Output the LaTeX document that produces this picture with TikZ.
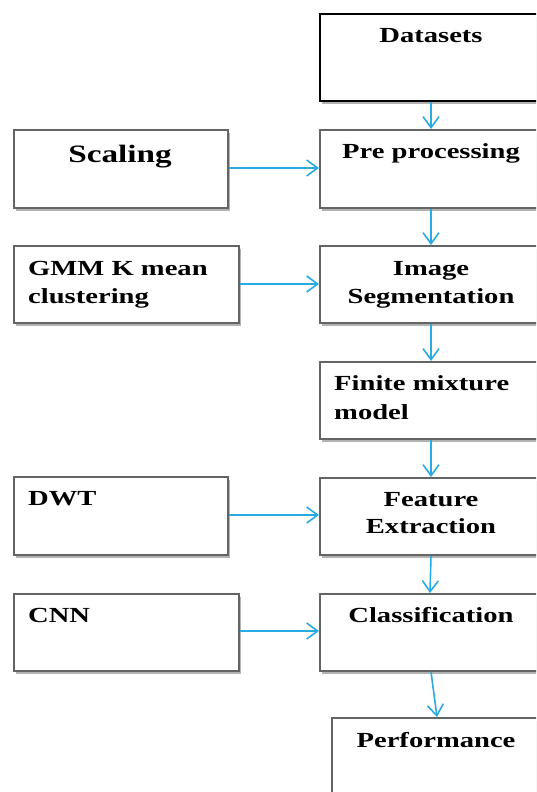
\documentclass[tikz,border=0pt]{standalone}
\usepackage{fontspec}
\setmainfont{Liberation Serif}[FakeStretch=1.33]
\usetikzlibrary{arrows.meta,shadows}
\definecolor{arrowblue}{RGB}{41,171,226}
\definecolor{boxgray}{RGB}{100,100,100}
\tikzset{
  boxst/.style={draw=boxgray, line width=1.8pt, fill=white, anchor=north west, inner sep=0pt,
    drop shadow={shadow xshift=2.4pt, shadow yshift=-2.8pt, fill=black!30, opacity=1}},
  darkbox/.style={boxst, draw=black},
  lbl/.style={font=\fontsize{21.5}{26}\selectfont\bfseries, inner sep=0pt, anchor=base},
  lbll/.style={lbl, anchor=base west},
  big/.style={lbl, font=\fontsize{25}{30}\selectfont\bfseries},
  flow/.style={draw=arrowblue, line width=1.6pt, -{Straight Barb[length=11pt,width=16pt,line width=1.6pt]}}
}
\begin{document}
\begin{tikzpicture}[x=1pt,y=-1pt]
\useasboundingbox (0,0) rectangle (536,792);
\clip (0,0) rectangle (536,792);
% right column
\node[darkbox, minimum width=225pt, minimum height=87pt] (ds) at (319,13) {};
\node[boxst, minimum width=225pt, minimum height=78pt] (pre) at (319,129) {};
\node[boxst, minimum width=225pt, minimum height=77pt] (seg) at (319,245) {};
\node[boxst, minimum width=225pt, minimum height=77pt] (fmm) at (319,361) {};
\node[boxst, minimum width=225pt, minimum height=77pt] (fe) at (319,477) {};
\node[boxst, minimum width=225pt, minimum height=77pt] (cls) at (319,593) {};
\node[boxst, minimum width=212pt, minimum height=90pt] (perf) at (331,717) {};
% left column
\node[boxst, minimum width=214pt, minimum height=78pt] (sc) at (13,129) {};
\node[boxst, minimum width=225pt, minimum height=77pt] (gmm) at (13,245) {};
\node[boxst, minimum width=214pt, minimum height=78pt] (dwt) at (13,476) {};
\node[boxst, minimum width=225pt, minimum height=77pt] (cnn) at (13,593) {};
% texts
\node[lbl] (tds) at (431,43) {Datasets};
\node[lbl] (tpre) at (431,158) {Pre processing};
\node[big] (tsc) at (120,162) {Scaling};
\node[lbll] (tgmma) at (28,275) {GMM K mean};
\node[lbll] (tgmmb) at (28,303) {clustering};
\node[lbl] (tsega) at (431,275) {Image};
\node[lbl] (tsegb) at (431,303) {Segmentation};
\node[lbll] (tfmma) at (334,390) {Finite mixture};
\node[lbll] (tfmmb) at (334,419) {model};
\node[lbl] (tfea) at (431,506) {Feature};
\node[lbl] (tfeb) at (431,533) {Extraction};
\node[lbll] (tdwt) at (28,505) {DWT};
\node[lbll] (tcnn) at (28,622) {CNN};
\node[lbl] (tcls) at (431,622) {Classification};
\node[lbl] (tperf) at (436,747) {Performance};
% connectors
\draw[flow] (ds.south -| 431,0) -- (pre.north -| 431,0);
\draw[flow] (sc.east |- 0,168) -- (pre.west |- 0,168);
\draw[flow] (pre.south -| 431,0) -- (seg.north -| 431,0);
\draw[flow] (gmm.east |- 0,284) -- (seg.west |- 0,284);
\draw[flow] (seg.south -| 431,0) -- (fmm.north -| 431,0);
\draw[flow] (fmm.south -| 431,0) -- (fe.north -| 431,0);
\draw[flow] (dwt.east |- 0,515) -- (fe.west |- 0,515);
\draw[flow] (fe.south -| 431,0) -- (cls.north -| 430,0);
\draw[flow] (cnn.east |- 0,631) -- (cls.west |- 0,631);
\draw[flow] (cls.south -| 431,0) -- (perf.north -| 437,0);
\end{tikzpicture}
\end{document}
